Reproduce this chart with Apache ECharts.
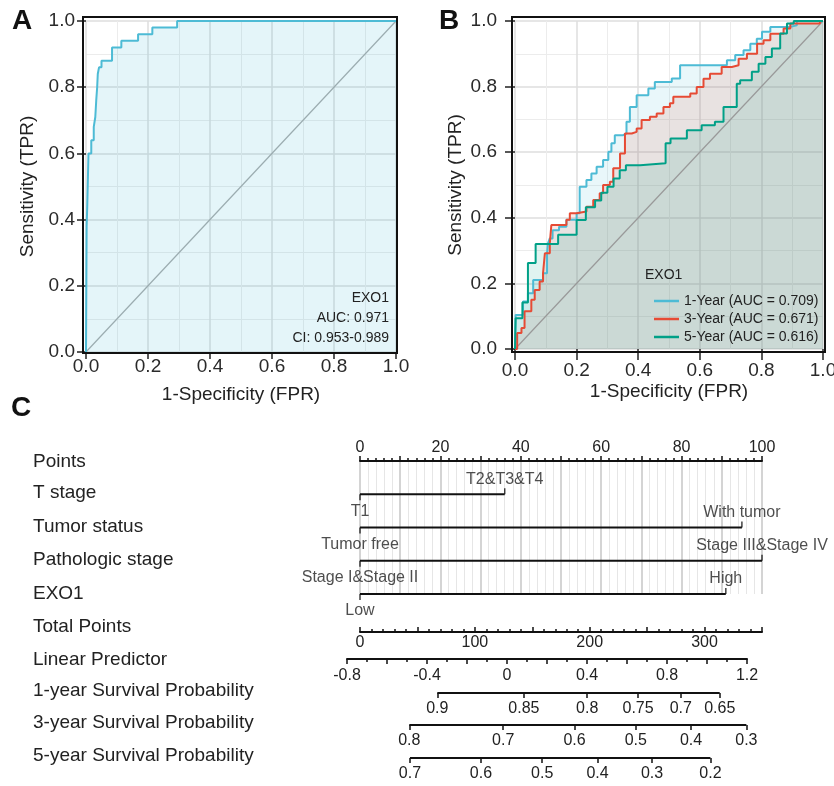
<!DOCTYPE html>
<html>
<head>
<meta charset="utf-8">
<script src="https://cdn.jsdelivr.net/npm/echarts@6.0.0/dist/echarts.min.js"></script>
<style>html,body{margin:0;padding:0;background:#fff}#main{width:834px;height:786px}</style>
</head>
<body>
<div id="main"></div>
<script>
// A: EXO1 diagnostic ROC (fpr where the curve steps up, tpr after the step)
var fprA = [0,0.002,0.004,0.006,0.008,0.017,0.025,0.030,0.033,0.036,0.038,0.042,0.050,0.084,0.114,0.168,0.214,0.294,1];
var tprA = [0,0.38,0.44,0.52,0.60,0.64,0.68,0.71,0.76,0.80,0.84,0.86,0.88,0.92,0.94,0.96,0.98,1.0,1];

// B: time dependent ROC
var fpr1 = [0,0.002,0.026,0.042,0.059,0.091,0.104,0.107,0.113,0.122,0.143,0.167,0.200,0.210,0.232,0.248,0.265,0.286,0.303,0.313,0.324,0.351,0.362,0.373,0.395,0.433,0.454,0.509,0.536,0.688,0.715,0.742,0.764,0.785,0.802,0.829,0.894,0.915,1];
var tpr1 = [0,0.104,0.145,0.170,0.210,0.231,0.292,0.322,0.337,0.362,0.373,0.394,0.414,0.495,0.515,0.535,0.556,0.576,0.601,0.627,0.652,0.657,0.693,0.738,0.774,0.794,0.814,0.825,0.865,0.880,0.896,0.911,0.931,0.946,0.967,0.982,0.987,1.0,1];
var fpr3 = [0,0.007,0.021,0.031,0.053,0.064,0.080,0.091,0.097,0.113,0.118,0.167,0.178,0.200,0.232,0.254,0.275,0.286,0.308,0.319,0.341,0.357,0.379,0.395,0.411,0.438,0.460,0.482,0.503,0.514,0.569,0.590,0.612,0.633,0.671,0.704,0.726,0.753,0.786,0.807,0.829,0.872,0.894,0.990,1];
var tpr3 = [0,0.049,0.064,0.115,0.150,0.180,0.206,0.231,0.292,0.322,0.378,0.394,0.414,0.419,0.434,0.454,0.475,0.500,0.510,0.551,0.596,0.657,0.662,0.672,0.698,0.708,0.718,0.738,0.749,0.769,0.779,0.799,0.824,0.839,0.860,0.865,0.885,0.900,0.931,0.941,0.961,0.977,0.992,1.0,1];
var fpr5 = [0,0.002,0.024,0.042,0.067,0.140,0.200,0.230,0.260,0.280,0.300,0.320,0.340,0.360,0.406,0.489,0.505,0.558,0.606,0.649,0.677,0.720,0.731,0.769,0.791,0.813,0.834,0.861,0.883,0.905,1];
var tpr5 = [0,0.094,0.142,0.262,0.320,0.348,0.393,0.432,0.453,0.476,0.495,0.520,0.545,0.560,0.566,0.627,0.642,0.667,0.682,0.693,0.738,0.809,0.819,0.845,0.870,0.890,0.916,0.962,0.992,1.0,1];
var rocNames = ['1-Year (AUC = 0.709)', '3-Year (AUC = 0.671)', '5-Year (AUC = 0.616)'];

// C: nomogram
var pointsLabels = [0, 20, 40, 60, 80, 100];
var tStagePoints = [0, 36];
var tStageLevels = ['T1', 'T2&T3&T4'];
var tumorStatusPoints = [0, 95];
var tumorStatusLevels = ['Tumor free', 'With tumor'];
var pathStagePoints = [0, 100];
var pathStageLevels = ['Stage I&Stage II', 'Stage III&Stage IV'];
var exo1Points = [0, 91];
var exo1Levels = ['Low', 'High'];
var totalLabels = [0, 100, 200, 300];
var lpLabels = [-0.8, -0.4, 0, 0.4, 0.8, 1.2];
// survival probability ticks, placed on the total points scale
var surv1Values = ['0.9', '0.85', '0.8', '0.75', '0.7', '0.65'];
var surv1Pos = [67.3, 142.7, 197.8, 242.1, 279.3, 313.2];
var surv3Values = ['0.8', '0.7', '0.6', '0.5', '0.4', '0.3'];
var surv3Pos = [42.9, 124.7, 186.8, 240.1, 288.2, 336.4];
var surv5Values = ['0.7', '0.6', '0.5', '0.4', '0.3', '0.2'];
var surv5Pos = [43.5, 105.3, 158.6, 206.8, 254.3, 305.1];
var rowNames = ['Points', 'T stage', 'Tumor status', 'Pathologic stage', 'EXO1', 'Total Points',
  'Linear Predictor', '1-year Survival Probability', '3-year Survival Probability', '5-year Survival Probability'];

var FONT = 'Liberation Sans, Arial, sans-serif';
var colA = '#4DBBD5';
var colB = ['#4DBBD5', '#E64B35', '#00A087'];
var rowY = [462, 493, 527, 560, 594, 627, 660, 691, 723, 756];

function zip(xs, ys) { return xs.map(function (x, i) { return [x, ys[i]]; }); }

function rocX(grid, gap, tickLen, margin) {
  return {
    gridIndex: grid, type: 'value', min: 0, max: 1, interval: 0.2,
    axisLine: { show: false },
    axisTick: { show: true, length: tickLen, lineStyle: { color: '#222', width: 1.5 } },
    axisLabel: { margin: margin, fontSize: 19, color: '#2a2a2a', fontFamily: FONT, formatter: function (v) { return v.toFixed(1); } },
    splitLine: { show: true, lineStyle: { color: '#dedede', width: 1.5 } },
    minorTick: { show: false, splitNumber: 2 },
    minorSplitLine: { show: true, lineStyle: { color: '#ececec', width: 1 } },
    name: '1-Specificity (FPR)', nameLocation: 'middle', nameGap: gap,
    nameTextStyle: { fontSize: 19, color: '#222', fontFamily: FONT }
  };
}
function rocY(grid, gap, tickLen, margin) {
  var a = rocX(grid, gap, tickLen, margin);
  a.name = 'Sensitivity (TPR)';
  return a;
}
function plainY(grid) {
  return { gridIndex: grid, type: 'value', min: 0, max: 1, show: false };
}
function probAxis(grid, pos, vals) {
  return {
    gridIndex: grid, type: 'value', min: 0, max: 350,
    axisLine: { show: false },
    axisTick: { show: true, customValues: pos, length: 5, lineStyle: { color: '#111', width: 1.5 } },
    axisLabel: { customValues: pos, margin: 8, fontSize: 16, color: '#222', fontFamily: FONT,
      formatter: function (v) { return vals[pos.indexOf(v)]; } },
    splitLine: { show: false }
  };
}
var blackLine = { color: '#111', width: 2 };
function segment(xi, yi, data) {
  return { type: 'line', xAxisIndex: xi, yAxisIndex: yi, data: data, symbol: 'none',
    lineStyle: blackLine, silent: true, z: 5 };
}

var lowLevels = [], highLevels = [];
[[tStagePoints, tStageLevels], [tumorStatusPoints, tumorStatusLevels],
 [pathStagePoints, pathStageLevels], [exo1Points, exo1Levels]].forEach(function (v, i) {
  lowLevels.push({ name: v[1][0], value: [v[0][0], i + 1] });
  highLevels.push({ name: v[1][1], value: [v[0][1], i + 1] });
});

var grids = [
  { left: 86, top: 21, width: 310, height: 331 },
  { left: 515, top: 21, width: 308, height: 328 },
  { left: 360, top: 461, width: 402, height: 133 },
  { left: 360, top: 600, width: 402, height: 32 },
  { left: 347, top: 640, width: 400, height: 19 },
  { left: 360, top: 680, width: 402, height: 13 },
  { left: 360, top: 712, width: 402, height: 13 },
  { left: 360, top: 745, width: 402, height: 13 }
].map(function (g) { g.containLabel = false; g.outerBoundsMode = 'none'; return g; });

var series = [];
// A
series.push({ type: 'line', xAxisIndex: 0, yAxisIndex: 0, data: [[0, 0], [1, 1]], symbol: 'none',
  lineStyle: { color: '#aaaaaa', width: 1.2 }, silent: true, z: 3 });
series.push({ type: 'line', xAxisIndex: 0, yAxisIndex: 0, data: zip(fprA, tprA), step: 'end', symbol: 'none',
  lineStyle: { color: colA, width: 2 }, areaStyle: { color: colA, opacity: 0.15 }, z: 4 });
// B fills
var rocB = [zip(fpr1, tpr1), zip(fpr3, tpr3), zip(fpr5, tpr5)];
rocB.forEach(function (d, i) {
  series.push({ type: 'line', xAxisIndex: 1, yAxisIndex: 1, data: d, step: 'end', symbol: 'none',
    lineStyle: { width: 0 }, areaStyle: { color: colB[i], opacity: 0.12 }, silent: true, z: 2 });
});
series.push({ type: 'line', xAxisIndex: 1, yAxisIndex: 1, data: [[0, 0], [1, 1]], symbol: 'none',
  lineStyle: { color: '#999999', width: 1.2 }, silent: true, z: 3 });
rocB.forEach(function (d, i) {
  series.push({ name: rocNames[i], type: 'line', xAxisIndex: 1, yAxisIndex: 1, data: d, step: 'end', symbol: 'none',
    color: colB[i], lineStyle: { color: colB[i], width: 2 }, z: 4 });
});
// C: categorical rows
[[tStagePoints, 1], [tumorStatusPoints, 2], [pathStagePoints, 3], [exo1Points, 4]].forEach(function (v) {
  series.push(segment(2, 2, [[v[0][0], v[1]], [v[0][1], v[1]]]));
});
series.push({ type: 'scatter', xAxisIndex: 2, yAxisIndex: 2, data: lowLevels, symbol: 'rect',
  symbolSize: [1.5, 6], symbolOffset: [0, 3], itemStyle: { color: '#111' }, silent: true, z: 6,
  label: { show: true, position: 'bottom', distance: 3, formatter: '{b}', fontSize: 16, color: '#222', fontFamily: FONT } });
series.push({ type: 'scatter', xAxisIndex: 2, yAxisIndex: 2, data: highLevels, symbol: 'rect',
  symbolSize: [1.5, 6], symbolOffset: [0, -3], itemStyle: { color: '#111' }, silent: true, z: 6,
  label: { show: true, position: 'top', distance: 1, formatter: '{b}', fontSize: 16, color: '#222', fontFamily: FONT } });
// C: survival probability scales
[[5, surv1Pos], [6, surv3Pos], [7, surv5Pos]].forEach(function (v) {
  series.push(segment(v[0], v[0], [[v[1][0], 0], [v[1][v[1].length - 1], 0]]));
});

var xAxes = [
  rocX(0, 33, 7, 5),
  rocX(1, 33, 11, 12),
  {
    gridIndex: 2, type: 'value', position: 'top', min: 0, max: 100, interval: 10,
    axisLine: { show: true, lineStyle: blackLine },
    axisTick: { show: true, length: 5, lineStyle: { color: '#111', width: 1.5 } },
    minorTick: { show: true, splitNumber: 5, length: 3, lineStyle: { color: '#111', width: 1.5 } },
    axisLabel: { customValues: pointsLabels, margin: 5, fontSize: 16, color: '#222', fontFamily: FONT },
    splitLine: { show: true, lineStyle: { color: '#c6c6c6', width: 1.5 } },
    minorSplitLine: { show: true, lineStyle: { color: '#e6e6e6', width: 1 } }
  },
  {
    gridIndex: 3, type: 'value', min: 0, max: 350, interval: 50,
    axisLine: { show: true, lineStyle: blackLine },
    axisTick: { show: true, inside: true, length: 5, lineStyle: { color: '#111', width: 1.5 } },
    minorTick: { show: true, splitNumber: 5, length: 3, lineStyle: { color: '#111', width: 1.5 } },
    axisLabel: { customValues: totalLabels, margin: 3, fontSize: 16, color: '#222', fontFamily: FONT },
    splitLine: { show: false }
  },
  {
    gridIndex: 4, type: 'value', min: -0.8, max: 1.2, interval: 0.2,
    axisLine: { show: true, lineStyle: blackLine },
    axisTick: { show: true, length: 5, lineStyle: { color: '#111', width: 1.5 } },
    minorTick: { show: true, splitNumber: 2, length: 3, lineStyle: { color: '#111', width: 1.5 } },
    axisLabel: { customValues: lpLabels, margin: 9, fontSize: 16, color: '#222', fontFamily: FONT },
    splitLine: { show: false }
  },
  probAxis(5, surv1Pos, surv1Values),
  probAxis(6, surv3Pos, surv3Values),
  probAxis(7, surv5Pos, surv5Values)
];
var yAxes = [
  rocY(0, 49, 9, 11),
  rocY(1, 50, 10, 18),
  { gridIndex: 2, type: 'value', inverse: true, min: 0, max: 4, show: false },
  plainY(3), plainY(4), plainY(5), plainY(6), plainY(7)
];

var graphics = [
  { type: 'rect', shape: { x: 83, y: 17, width: 314, height: 336 }, style: { fill: 'none', stroke: '#111', lineWidth: 2 }, z: 100 },
  { type: 'rect', shape: { x: 512, y: 17, width: 313, height: 335 }, style: { fill: 'none', stroke: '#111', lineWidth: 2 }, z: 100 },
  { type: 'text', x: 12, y: 21, style: { text: 'A', font: 'bold 28px ' + FONT, fill: '#111', verticalAlign: 'middle' } },
  { type: 'text', x: 439, y: 21, style: { text: 'B', font: 'bold 28px ' + FONT, fill: '#111', verticalAlign: 'middle' } },
  { type: 'text', x: 11, y: 408, style: { text: 'C', font: 'bold 28px ' + FONT, fill: '#111', verticalAlign: 'middle' } },
  { type: 'text', x: 389, y: 298, style: { text: 'EXO1', font: '14px ' + FONT, fill: '#222', align: 'right', verticalAlign: 'middle' }, z: 50 },
  { type: 'text', x: 389, y: 318, style: { text: 'AUC: 0.971', font: '14px ' + FONT, fill: '#222', align: 'right', verticalAlign: 'middle' }, z: 50 },
  { type: 'text', x: 389, y: 338, style: { text: 'CI: 0.953-0.989', font: '14px ' + FONT, fill: '#222', align: 'right', verticalAlign: 'middle' }, z: 50 },
  { type: 'text', x: 645, y: 275, style: { text: 'EXO1', font: '14px ' + FONT, fill: '#222', verticalAlign: 'middle' }, z: 50 }
];
rowNames.forEach(function (n, i) {
  graphics.push({ type: 'text', x: 33, y: rowY[i], style: { text: n, font: '19px ' + FONT, fill: '#222', verticalAlign: 'middle' } });
});

var chart = echarts.init(document.getElementById('main'), null, { renderer: 'canvas' });
chart.setOption({
  animation: false,
  backgroundColor: '#ffffff',
  textStyle: { fontFamily: FONT },
  grid: grids,
  xAxis: xAxes,
  yAxis: yAxes,
  legend: {
    data: rocNames, orient: 'vertical', left: 649, top: 289, icon: 'rect', itemWidth: 25, itemHeight: 2.5, itemGap: 4,
    textStyle: { fontSize: 14, color: '#222', fontFamily: FONT }, selectedMode: false
  },
  graphic: graphics,
  series: series
});
</script>
</body>
</html>
